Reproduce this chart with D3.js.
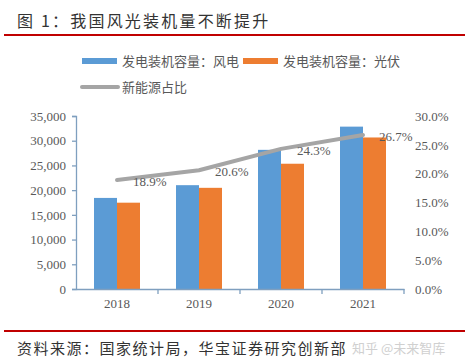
<!DOCTYPE html>
<html><head><meta charset="utf-8">
<script src="https://cdn.jsdelivr.net/npm/d3@7"></script>
<style>body{margin:0;background:#fff}svg{display:block}</style>
</head><body>
<script>
const years = ["2018","2019","2020","2021"];
const wind = [18426, 21005, 28153, 32848];
const solar = [17463, 20468, 25343, 30656];
const share = [18.9, 20.6, 24.3, 26.7];
const leftTicks = [0,5000,10000,15000,20000,25000,30000,35000];
const rightTicks = [0,5,10,15,20,25,30];
const seriesNames = ["发电装机容量：风电","发电装机容量：光伏","新能源占比"];
const title = "图 1：我国风光装机量不断提升";
const source = "资料来源：国家统计局，华宝证券研究创新部";

const W=474,H=361;
const svg=d3.select("body").append("svg").attr("width",W).attr("height",H);
const cjk="'Noto Sans CJK SC','Noto Sans',sans-serif";
const serif="'Liberation Serif','DejaVu Serif',serif";
const axisCol="#7f9fbf", txt="#595959";

svg.append("text").attr("x",17).attr("y",27).attr("font-family",cjk).attr("font-size",16)
  .attr("letter-spacing",2.2).attr("fill","#333").text(title);
svg.append("line").attr("x1",4).attr("x2",465).attr("y1",35).attr("y2",35).attr("stroke","#c00000").attr("stroke-width",2);
svg.append("line").attr("x1",4).attr("x2",465).attr("y1",331).attr("y2",331).attr("stroke","#c00000").attr("stroke-width",2);
svg.append("text").attr("x",17).attr("y",354).attr("font-family",cjk).attr("font-size",15)
  .attr("letter-spacing",1.5).attr("fill","#333").text(source);
svg.append("text").attr("x",352).attr("y",353).attr("font-family",cjk).attr("font-size",13)
  .attr("fill","#d0d0d0").text("知乎 @未来智库");

const x=d3.scaleBand().domain(years).range([76,404]);
const xi=d3.scaleBand().domain([0,1]).range([0,46]);
const yL=d3.scaleLinear().domain([0,35000]).range([289,116]);
const yR=d3.scaleLinear().domain([0,30]).range([289,116]);
const colors=["#5b9bd5","#ed7d31","#a5a5a5"];

// bars
[wind,solar].forEach((arr,si)=>{
  svg.append("g").selectAll("rect").data(arr).join("rect")
    .attr("x",(d,i)=>x(years[i])+x.bandwidth()/2-23+xi(si))
    .attr("width",23)
    .attr("y",d=>yL(d)).attr("height",d=>yL(0)-yL(d))
    .attr("fill",colors[si]);
});

// left axis
const gl=svg.append("g").attr("transform","translate(76,0)")
  .call(d3.axisLeft(yL).tickValues(leftTicks).tickSize(4).tickPadding(6).tickFormat(d3.format(",")));
gl.selectAll("path,line").attr("stroke",axisCol).attr("stroke-width",1.3);
gl.selectAll("text").attr("font-family",serif).attr("font-size",13).attr("fill",txt);

// right axis (labels only)
const gr=svg.append("g").attr("transform","translate(404,0)")
  .call(d3.axisRight(yR).tickValues(rightTicks).tickSize(0).tickPadding(11).tickFormat(d=>d3.format(".1f")(d)+"%"));
gr.select(".domain").remove();
gr.selectAll("text").attr("font-family",serif).attr("font-size",13).attr("fill",txt);

// x axis
const gx=svg.append("g").attr("transform","translate(0,289)")
  .call(d3.axisBottom(x).tickSize(0).tickPadding(10));
gx.select(".domain").attr("stroke",axisCol).attr("stroke-width",1.3);
gx.selectAll("text").attr("font-family",serif).attr("font-size",13).attr("fill",txt);
gx.selectAll(".bt").data(years.slice(1).concat(["end"])).join("line")
  .attr("x1",(d,i)=>i<3?x(d):404).attr("x2",(d,i)=>i<3?x(d):404)
  .attr("y1",0).attr("y2",5).attr("stroke",axisCol).attr("stroke-width",1.3);

// line
const line=d3.line().x((d,i)=>x(years[i])+x.bandwidth()/2).y(d=>yR(d));
svg.append("path").datum(share).attr("d",line).attr("fill","none")
  .attr("stroke",colors[2]).attr("stroke-width",4).attr("stroke-linecap","round").attr("stroke-linejoin","round");
svg.append("g").selectAll("text").data(share).join("text")
  .attr("x",(d,i)=>x(years[i])+x.bandwidth()/2+16).attr("y",d=>yR(d)+6)
  .attr("font-family",serif).attr("font-size",13).attr("fill",txt)
  .text(d=>d3.format(".1f")(d)+"%");

// legend
const leg=[{x:82,y:61,t:"rect"},{x:243,y:61,t:"rect"},{x:82,y:87,t:"line"}];
leg.forEach((l,i)=>{
  if(l.t==="rect") svg.append("rect").attr("x",l.x).attr("y",l.y-3).attr("width",35).attr("height",6).attr("fill",colors[i]);
  else svg.append("line").attr("x1",l.x).attr("x2",l.x+36).attr("y1",l.y).attr("y2",l.y).attr("stroke",colors[i]).attr("stroke-width",4).attr("stroke-linecap","round");
  svg.append("text").attr("x",l.x+40).attr("y",l.y+5).attr("font-family",cjk).attr("font-size",13)
    .attr("fill",txt).text(seriesNames[i]);
});
</script>
</body></html>
